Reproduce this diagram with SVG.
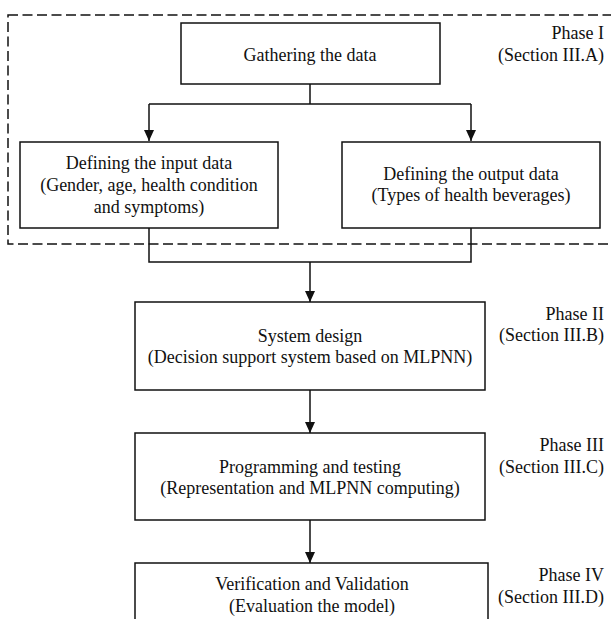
<svg xmlns="http://www.w3.org/2000/svg" width="611" height="619" viewBox="0 0 611 619">
<defs>
<style>
.box{fill:#fff;stroke:#111;stroke-width:1.5}
text{font-family:'Liberation Serif','Tinos','DejaVu Serif',serif;font-size:18px;fill:#111}
.t{text-anchor:middle}
.p{text-anchor:end}
.c{fill:none;stroke:#111;stroke-width:1.5}
.dash{fill:none;stroke:#111;stroke-width:1.5;stroke-dasharray:10 4.5}
</style>
<marker id="ah" viewBox="0 0 11 11" refX="11" refY="5.5" markerWidth="11" markerHeight="11" markerUnits="userSpaceOnUse" orient="auto">
<path d="M0,0.5 L11,5.5 L0,10.5 Z" fill="#111"/>
</marker>
</defs>
<rect width="611" height="619" fill="#fff"/>
<g id="phase1-frame">
<rect class="dash" x="8" y="15" width="606" height="229"/>
</g>
<g id="connectors">
<path class="c" d="M310,84 V104 M149,104 H471"/>
<path class="c" d="M149,104 V141" marker-end="url(#ah)"/>
<path class="c" d="M471,104 V141" marker-end="url(#ah)"/>
<path class="c" d="M149,228 V262 H471 V228"/>
<path class="c" d="M310,262 V302" marker-end="url(#ah)"/>
<path class="c" d="M310,390 V433" marker-end="url(#ah)"/>
<path class="c" d="M310,520 V563" marker-end="url(#ah)"/>
</g>
<g id="gathering">
<rect class="box" x="181" y="23" width="259" height="61"/>
<text class="t" x="310" y="61" font-family="Liberation Serif, serif">Gathering the data</text>
</g>
<g id="input">
<rect class="box" x="20" y="142" width="258" height="86"/>
<text class="t" x="149" y="169">Defining the input data</text>
<text class="t" x="149" y="191">(Gender, age, health condition</text>
<text class="t" x="149" y="213">and symptoms)</text>
</g>
<g id="output">
<rect class="box" x="342" y="142" width="258" height="86"/>
<text class="t" x="471" y="180">Defining the output data</text>
<text class="t" x="471" y="201">(Types of health beverages)</text>
</g>
<g id="system-design">
<rect class="box" x="135" y="302" width="350" height="88"/>
<text class="t" x="310" y="342">System design</text>
<text class="t" x="310" y="363">(Decision support system based on MLPNN)</text>
</g>
<g id="programming">
<rect class="box" x="135" y="433" width="350" height="87"/>
<text class="t" x="310" y="473">Programming and testing</text>
<text class="t" x="310" y="494">(Representation and MLPNN computing)</text>
</g>
<g id="verification">
<rect class="box" x="135" y="563" width="353" height="80"/>
<text class="t" x="312" y="590">Verification and Validation</text>
<text class="t" x="312" y="612">(Evaluation the model)</text>
</g>
<g id="phase-labels">
<text class="p" x="604" y="39">Phase I</text>
<text class="p" x="604" y="61">(Section III.A)</text>
<text class="p" x="604" y="320">Phase II</text>
<text class="p" x="604" y="341">(Section III.B)</text>
<text class="p" x="604" y="451">Phase III</text>
<text class="p" x="604" y="473">(Section III.C)</text>
<text class="p" x="604" y="581">Phase IV</text>
<text class="p" x="604" y="603">(Section III.D)</text>
</g>
</svg>
